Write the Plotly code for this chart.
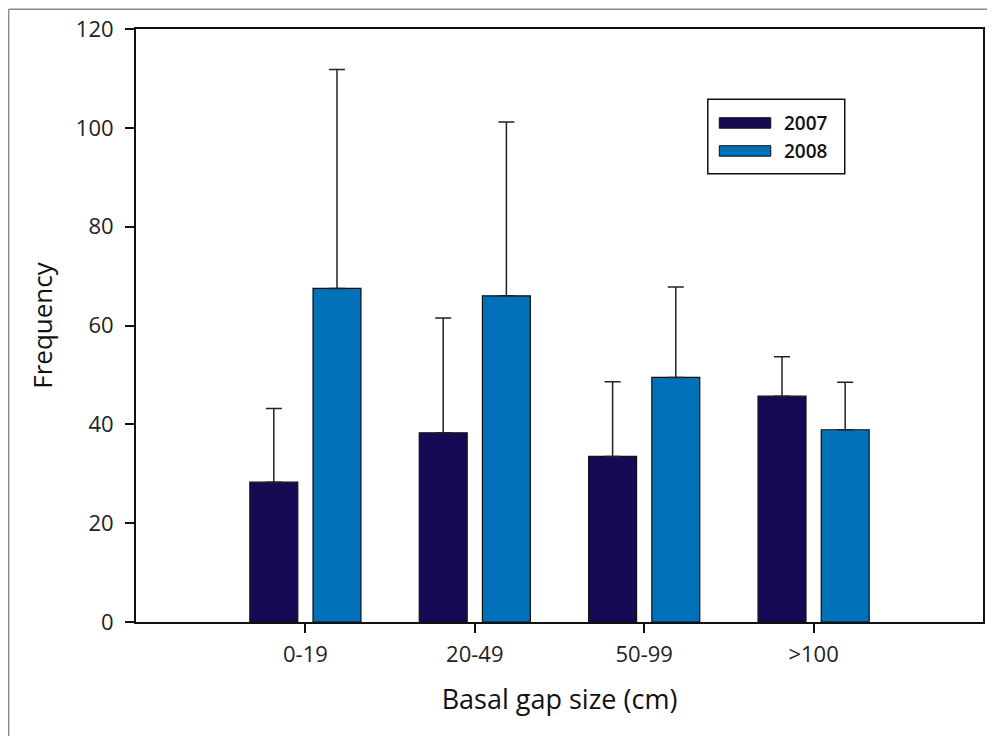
import plotly.graph_objects as go

categories = ["0-19", "20-49", "50-99", ">100"]
series_names = ["2007", "2008"]
values_2007 = [28.3, 38.3, 33.5, 45.7]
values_2008 = [67.5, 66.0, 49.5, 38.9]
upper_2007 = [43.2, 61.5, 48.6, 53.7]
upper_2008 = [111.8, 101.2, 67.8, 48.5]
y_ticks = [0, 20, 40, 60, 80, 100, 120]

C2007 = "#170a55"
C2008 = "#0070b9"
FONT = "Open Sans"

# page is offset by the default 8px body margin
OFF = 8
W, H = 995 - OFF, 736 - OFF
ML, MR, MT, MB = 128, 11.7, 21.3, 113.7
PW, PH = W - ML - MR, H - MT - MB


def px_x(p):
    return (p - OFF - ML) / PW


def px_y(p):
    return (H - MB - (p - OFF)) / PH


fig = go.Figure()
for name, vals, ups, col, off in [
    (series_names[0], values_2007, upper_2007, C2007, -0.328),
    (series_names[1], values_2008, upper_2008, C2008, 0.045),
]:
    fig.add_trace(go.Bar(
        x=list(range(len(categories))), y=vals, name=name,
        width=0.283, offset=off,
        marker=dict(color=col, line=dict(color="#111111", width=1.2)),
        error_y=dict(type="data", symmetric=False,
                     array=[u - v for u, v in zip(ups, vals)],
                     arrayminus=[0] * len(vals),
                     color="#222222", thickness=1.5, width=8),
        showlegend=False,
    ))

shapes = [
    # outer grey frame (top and left)
    dict(type="line", xref="paper", yref="paper", x0=px_x(8.6), x1=px_x(1000),
         y0=px_y(9.5), y1=px_y(9.5), line=dict(color="#8a8a8a", width=1.5)),
    dict(type="line", xref="paper", yref="paper", x0=px_x(8.6), x1=px_x(8.6),
         y0=px_y(9.5), y1=px_y(740), line=dict(color="#8a8a8a", width=1.5)),
    # legend box
    dict(type="rect", xref="paper", yref="paper", x0=px_x(708), x1=px_x(845),
         y0=px_y(174), y1=px_y(99.5), line=dict(color="#111111", width=1.5),
         fillcolor="white"),
    dict(type="rect", xref="paper", yref="paper", x0=px_x(719.5), x1=px_x(771),
         y0=px_y(128.5), y1=px_y(118), line=dict(color="#111111", width=1),
         fillcolor=C2007),
    dict(type="rect", xref="paper", yref="paper", x0=px_x(719.5), x1=px_x(771),
         y0=px_y(156.5), y1=px_y(146), line=dict(color="#111111", width=1),
         fillcolor=C2008),
]
annotations = [
    dict(xref="paper", yref="paper", x=px_x(782), y=px_y(123.5), text=series_names[0],
         showarrow=False, xanchor="left", yanchor="middle",
         font=dict(family=FONT, size=19, color="#111111", weight=600)),
    dict(xref="paper", yref="paper", x=px_x(782), y=px_y(151.5), text=series_names[1],
         showarrow=False, xanchor="left", yanchor="middle",
         font=dict(family=FONT, size=19, color="#111111", weight=600)),
]

fig.update_layout(
    width=W, height=H,
    margin=dict(l=ML, r=MR, t=MT, b=MB, pad=0, autoexpand=False),
    paper_bgcolor="white", plot_bgcolor="white",
    barmode="group",
    font=dict(family=FONT, size=22, color="#222222"),
    shapes=shapes, annotations=annotations,
    xaxis=dict(
        automargin=False,
        range=[-1, 4], tickmode="array", tickvals=list(range(len(categories))),
        ticktext=categories, ticks="outside", ticklen=9, tickwidth=2,
        tickcolor="#111111", showline=True, linecolor="#111111", linewidth=2,
        mirror=True, showgrid=False, zeroline=False,
        tickfont=dict(family=FONT, size=22, color="#222222"),
        ticklabelstandoff=3,
        title=dict(text="Basal gap size (cm)", standoff=23,
                   font=dict(family=FONT, size=27, color="#111111")),
    ),
    yaxis=dict(
        automargin=False,
        range=[0, 120], tickmode="array", tickvals=y_ticks,
        ticks="outside", ticklen=9, tickwidth=2, tickcolor="#111111",
        showline=True, linecolor="#111111", linewidth=2, mirror=True,
        showgrid=False, zeroline=False,
        tickfont=dict(family=FONT, size=22, color="#222222"),
        ticklabelstandoff=7,
        title=dict(text="Frequency", standoff=16,
                   font=dict(family=FONT, size=26, color="#111111")),
    ),
)

fig.write_html("out.html")
